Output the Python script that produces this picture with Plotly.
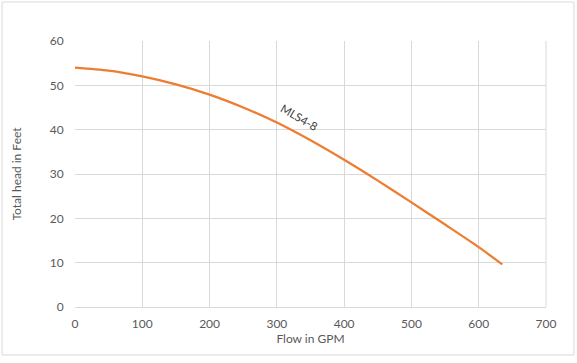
import plotly.graph_objects as go

flow = [0, 50, 100, 150, 200, 250, 300, 350, 400, 450, 500, 550, 600, 635]
head = [54.0, 53.3, 52.0, 50.2, 47.9, 45.0, 41.6, 37.6, 33.2, 28.5, 23.6, 18.6, 13.5, 9.6]
x_ticks = [0, 100, 200, 300, 400, 500, 600, 700]
y_ticks = [0, 10, 20, 30, 40, 50, 60]

W, H = 577, 363
ml, mr, mt, mb = 75, 31, 41, 56
pw, ph = W - ml - mr, H - mt - mb

fig = go.Figure()
fig.add_trace(go.Scatter(x=flow, y=head, mode="lines",
                         line=dict(color="#ED7D31", width=2.25, shape="spline", smoothing=0.8),
                         showlegend=False, hoverinfo="skip"))

fig.add_annotation(x=334, y=42.8, text="MLS4-8", showarrow=False, textangle=30,
                   font=dict(family="Lato, Open Sans, sans-serif", size=11.5, color="#404040"))

fig.add_shape(type="rect", xref="paper", yref="paper",
              x0=(2 - ml) / pw, x1=(574 - ml) / pw,
              y0=(H - mb - 355) / ph, y1=(H - mb - 2) / ph,
              line=dict(color="#D9D9D9", width=1), fillcolor="rgba(0,0,0,0)", layer="below")

axis_font = dict(family="Lato, Open Sans, sans-serif", size=12, color="#595959")
fig.update_layout(
    width=W, height=H,
    margin=dict(l=ml, r=mr, t=mt, b=mb, autoexpand=False),
    paper_bgcolor="white", plot_bgcolor="white",
    font=axis_font,
    xaxis=dict(range=[0, 700], tickvals=x_ticks, showgrid=True, gridcolor="#D9D9D9",
               gridwidth=1, zeroline=False, showline=True, linecolor="#D9D9D9",
               ticks="outside", ticklen=6, tickcolor="rgba(0,0,0,0)", tickfont=axis_font,
               title=dict(text="Flow in GPM", font=axis_font, standoff=4)),
    yaxis=dict(range=[0, 60], tickvals=y_ticks, showgrid=True, gridcolor="#D9D9D9",
               gridwidth=1, zeroline=False, showline=False,
               ticks="outside", ticklen=8, tickcolor="rgba(0,0,0,0)",
               tickfont=axis_font,
               title=dict(text="Total head in Feet", font=axis_font, standoff=25)),
)
fig.add_shape(type="line", xref="paper", yref="paper", x0=1, x1=1, y0=0, y1=1,
              line=dict(color="#D9D9D9", width=1), layer="below")

fig.write_html("out.html", config={"displayModeBar": False},
               post_script="document.body.style.margin='0';document.body.style.padding='0';")
